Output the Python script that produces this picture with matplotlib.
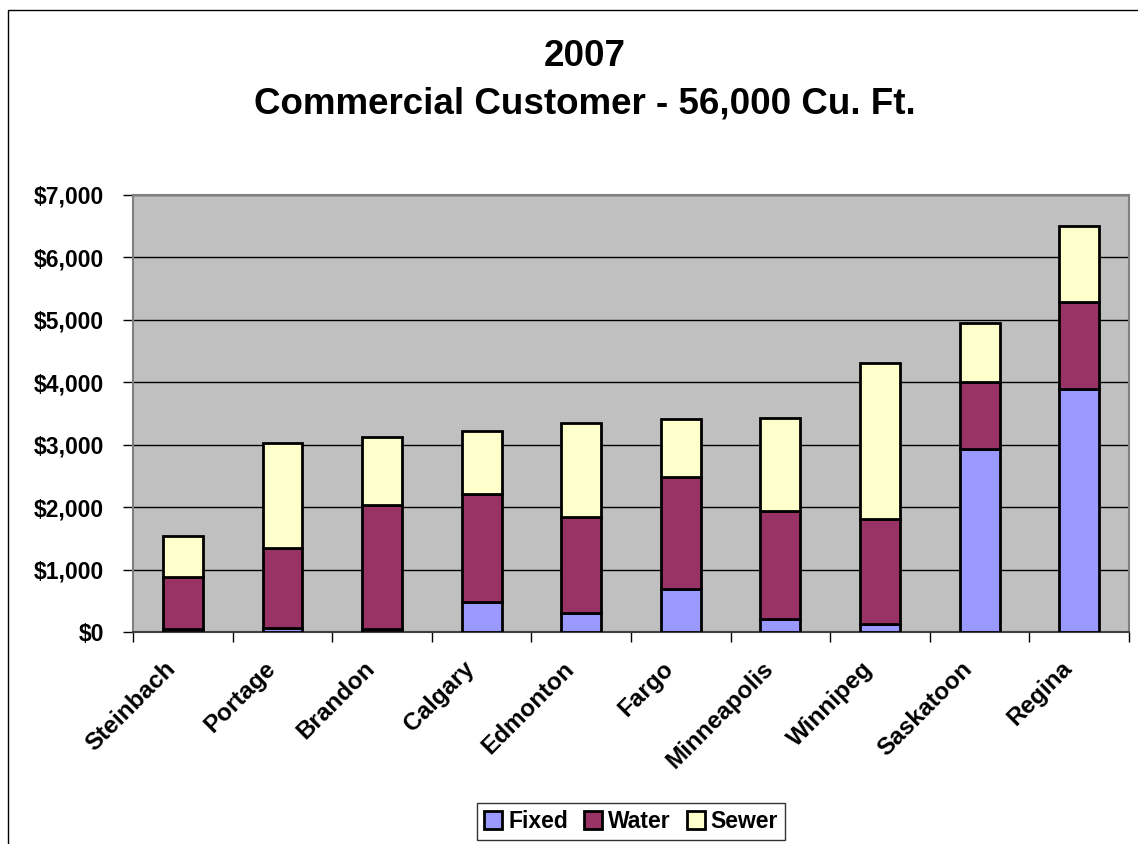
import numpy as np
import matplotlib
matplotlib.use("Agg")
import matplotlib.pyplot as plt
from matplotlib.patches import Rectangle
from matplotlib.ticker import FuncFormatter, MultipleLocator

# Annual cost breakdown per city ($)
cities = ["Steinbach", "Portage", "Brandon", "Calgary", "Edmonton",
          "Fargo", "Minneapolis", "Winnipeg", "Saskatoon", "Regina"]
fixed = [53, 59, 40, 485, 309, 693, 205, 128, 2928, 3888]
water = [827, 1285, 1997, 1718, 1536, 1787, 1731, 1680, 1072, 1397]
sewer = [656, 1685, 1094, 1024, 1504, 933, 1499, 2496, 955, 1216]

plt.rcParams['font.family'] = ['Liberation Sans', 'DejaVu Sans']
plt.rcParams['font.weight'] = 'bold'

fig = plt.figure(figsize=(11.38, 8.44), dpi=100)
ax = fig.add_axes([0.1169, 0.2512, 0.8752, 0.5178])
ax.set_facecolor('#C0C0C0')

x = np.arange(len(cities))
bottom_water = np.array(fixed)
bottom_sewer = bottom_water + np.array(water)
kw = dict(width=0.4, edgecolor='black', linewidth=2.0, zorder=3)
ax.bar(x, fixed, color='#9999FF', label='Fixed', **kw)
ax.bar(x, water, bottom=bottom_water, color='#993366', label='Water', **kw)
ax.bar(x, sewer, bottom=bottom_sewer, color='#FFFFCC', label='Sewer', **kw)

ax.set_xlim(-0.5, len(cities) - 0.5)
ax.set_ylim(0, 7000)
ax.yaxis.set_major_locator(MultipleLocator(1000))
ax.yaxis.set_major_formatter(FuncFormatter(lambda v, p: f"${v:,.0f}"))
ax.grid(axis='y', color='black', linewidth=1, zorder=1)
ax.set_axisbelow(True)

# category ticks sit between the bars
ax.set_xticks(np.arange(-0.5, len(cities), 1.0))
ax.set_xticklabels([])
ax.tick_params(axis='x', direction='out', length=7, width=1, color='black')
ax.tick_params(axis='y', direction='out', length=7, width=1, color='black',
               labelsize=16.5, pad=14)
for lbl in ax.get_yticklabels():
    lbl.set_fontweight('bold')

for i, name in enumerate(cities):
    ax.text(i - 0.19, -400, name, rotation=45, ha='right', va='top',
            rotation_mode='anchor', fontsize=17.5, fontweight='bold')

for side in ['top', 'right', 'left']:
    ax.spines[side].set_color('#808080')
    ax.spines[side].set_linewidth(1.5)
ax.spines['bottom'].set_color('#404040')
ax.spines['bottom'].set_linewidth(1.5)

fig.text(0.514, 0.905, "2007\nCommercial Customer - 56,000 Cu. Ft.",
         ha='center', va='center', fontsize=26.5, fontweight='bold',
         linespacing=1.45)

leg = fig.legend(loc='center', bbox_to_anchor=(0.5545, 0.027), ncol=3,
                 fontsize=16.5, frameon=True, fancybox=False, edgecolor='black',
                 handlelength=0.8, handleheight=0.8, handletextpad=0.25,
                 columnspacing=0.7, borderpad=0.3)
leg.get_frame().set_linewidth(1)
for t in leg.get_texts():
    t.set_fontweight('bold')

# chart area border
fig.add_artist(Rectangle((8 / 1138, -0.1), 1.2, 0.1 + 1 - 10 / 844,
                         transform=fig.transFigure, fill=False,
                         edgecolor='black', linewidth=1))

fig.savefig("out.png", dpi=100)
